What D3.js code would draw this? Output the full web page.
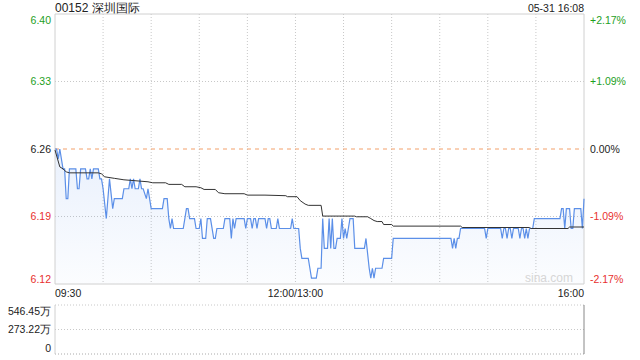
<!DOCTYPE html>
<html>
<head>
<meta charset="utf-8">
<script src="https://cdn.jsdelivr.net/npm/d3@7"></script>
<style>
    body { margin: 0; background: #fff; }
    svg { display: block; font-family: "Liberation Sans", Arial, sans-serif; }
</style>
</head>
<body>
<div class="chart"></div>
<script>
const title = '00152 深圳国际'
const stamp = '05-31 16:08'
const prevClose = 6.26
const spanPct = 0.0217

const priceLabels = ['6.12', '6.19', '6.26', '6.33', '6.40']
const pctLabels = ['-2.17%', '-1.09%', '0.00%', '+1.09%', '+2.17%']
const timeLabels = ['09:30', '12:00/13:00', '16:00']
const timeLabelMins = [0, 150, 330]
const volLabels = ['0', '273.22万', '546.45万']
const volTicks = [0, 273.22, 546.45]

// [minute since 09:30 (lunch removed), price]
const pricePts = [
    [0, 6.26], [1, 6.26], [2, 6.25], [3, 6.26], [5, 6.24], [6, 6.24], [7, 6.21], [8, 6.21],
    [9, 6.24], [13, 6.24], [14, 6.22], [15, 6.22], [16, 6.24], [19, 6.24], [20, 6.23], [21, 6.23],
    [22, 6.24], [23, 6.23], [24, 6.24], [27, 6.24], [28, 6.23], [29, 6.23], [30, 6.22], [32, 6.19],
    [34, 6.23], [36, 6.20], [37, 6.21], [42, 6.21], [43, 6.22], [46, 6.22], [47, 6.23], [48, 6.22],
    [49, 6.23], [50, 6.22], [52, 6.22], [53, 6.23], [54, 6.22], [55, 6.22], [57, 6.21], [58, 6.22],
    [59, 6.21], [60, 6.20], [67, 6.20], [68, 6.21], [70, 6.21], [71, 6.19], [72, 6.18], [73, 6.19],
    [74, 6.18], [80, 6.18], [81, 6.19], [82, 6.20], [83, 6.20], [84, 6.19], [87, 6.19], [88, 6.18],
    [90, 6.18], [91, 6.19], [92, 6.17], [94, 6.17], [95, 6.19], [97, 6.19], [99, 6.17], [100, 6.17],
    [101, 6.18], [105, 6.18], [106, 6.19], [109, 6.19], [110, 6.17], [111, 6.19], [112, 6.18], [113, 6.19],
    [118, 6.19], [119, 6.18], [120, 6.19], [122, 6.19], [123, 6.18], [124, 6.19], [125, 6.19], [126, 6.18],
    [127, 6.19], [131, 6.19], [132, 6.18], [133, 6.19], [134, 6.19], [135, 6.18], [138, 6.18], [139, 6.19],
    [140, 6.18], [147, 6.18], [148, 6.19], [149, 6.18], [152, 6.18], [153, 6.16], [154, 6.15], [158, 6.15],
    [159, 6.14], [160, 6.13], [163, 6.13], [164, 6.14], [166, 6.14], [167, 6.19], [168, 6.16], [170, 6.16],
    [171, 6.19], [172, 6.16], [173, 6.19], [174, 6.16], [175, 6.16], [176, 6.17], [178, 6.17], [179, 6.19],
    [180, 6.17], [181, 6.18], [182, 6.17], [183, 6.18], [184, 6.19], [186, 6.19], [187, 6.16], [193, 6.16],
    [194, 6.17], [196, 6.14], [197, 6.13], [198, 6.14], [199, 6.13], [200, 6.14], [204, 6.14], [205, 6.15],
    [210, 6.15], [211, 6.17], [247, 6.17], [248, 6.16], [249, 6.17], [250, 6.16], [251, 6.17], [252, 6.17],
    [253, 6.18], [268, 6.18], [269, 6.17], [270, 6.18], [278, 6.18], [279, 6.17], [280, 6.18], [281, 6.18],
    [282, 6.17], [283, 6.18], [284, 6.18], [285, 6.17], [286, 6.18], [289, 6.18], [290, 6.17], [291, 6.18],
    [292, 6.18], [293, 6.17], [294, 6.18], [295, 6.17], [296, 6.18], [298, 6.18], [299, 6.19], [315, 6.19],
    [316, 6.20], [317, 6.20], [318, 6.18], [319, 6.20], [321, 6.20], [322, 6.18], [323, 6.18], [324, 6.20],
    [328, 6.20], [329, 6.18], [330, 6.21]
]

const avgPts = [
    [0, 6.259], [3, 6.242], [5, 6.240], [7, 6.237], [9, 6.236], [27, 6.236], [29, 6.235], [31, 6.232],
    [37, 6.2305], [43, 6.229], [58, 6.227], [61, 6.226], [69, 6.226], [71, 6.2244], [79, 6.2244], [81, 6.222],
    [88, 6.222], [91, 6.221], [93, 6.2193], [100, 6.2193], [102, 6.216], [106, 6.215], [118, 6.215], [120, 6.2136],
    [131, 6.2136], [144, 6.213], [145, 6.212], [151, 6.212], [153, 6.208], [156, 6.2046], [158, 6.2033], [166, 6.2033],
    [167, 6.1925], [187, 6.1925], [188, 6.1918], [195, 6.1918], [197, 6.19], [199, 6.188], [201, 6.187], [204, 6.187],
    [205, 6.184], [210, 6.184], [211, 6.1824], [253, 6.1824], [254, 6.181], [296, 6.181], [297, 6.180], [320, 6.180],
    [321, 6.1815], [330, 6.1815]
]

const plotL = 55, plotR = 584, plotT = 14, plotB = 284
const volT = 305, volB = 354
const green = '#1ea01e', red = '#e8302e', grid = '#c8c8c8'

const svg = d3.select('.chart')
    .append('svg')
        .attr('width', 640)
        .attr('height', 360)
        .style('font-size', '10.5px')

const lo = prevClose * (1 - spanPct), hi = prevClose * (1 + spanPct)

const xScale = d3.scaleLinear()
    .domain([0, 330])
    .range([plotL, plotR])

const yScale = d3.scaleLinear()
    .domain([lo, hi])
    .range([plotB, plotT])

const vScale = d3.scaleLinear()
    .domain([0, volTicks[2]])
    .range([volB, volT])

const levels = d3.range(5).map(i => lo + i * (hi - lo) / 4)
const tone = i => i < 2 ? red : i > 2 ? green : '#222'

// gradient under the price line
const grad = svg.append('defs')
    .append('linearGradient')
        .attr('id', 'fade')
        .attr('gradientUnits', 'userSpaceOnUse')
        .attr('x1', 0).attr('x2', 0)
        .attr('y1', yScale(hi)).attr('y2', yScale(lo))
grad.append('stop').attr('offset', '0%').attr('stop-color', '#4a86e8').attr('stop-opacity', 0.22)
grad.append('stop').attr('offset', '100%').attr('stop-color', '#4a86e8').attr('stop-opacity', 0.02)

// vertical grid
svg.selectAll('line.vgrid')
    .data(d3.range(30, 330, 30))
    .enter()
    .append('line')
        .attr('x1', d => xScale(d))
        .attr('x2', d => xScale(d))
        .attr('y1', plotT)
        .attr('y2', plotB)
        .style('stroke', grid)
        .style('stroke-dasharray', '1,2')

svg.selectAll('line.hgrid')
    .data([levels[1], levels[3]])
    .enter()
    .append('line')
        .attr('x1', plotL)
        .attr('x2', plotR)
        .attr('y1', d => yScale(d))
        .attr('y2', d => yScale(d))
        .style('stroke', grid)
        .style('stroke-dasharray', '1,2')

svg.append('path')
    .datum(pricePts)
    .attr('d', d3.area()
        .x(d => xScale(d[0]))
        .y0(yScale(lo))
        .y1(d => yScale(d[1])))
    .style('fill', 'url(#fade)')

// previous close
svg.append('line')
    .attr('x1', plotL)
    .attr('x2', plotR)
    .attr('y1', yScale(prevClose))
    .attr('y2', yScale(prevClose))
    .style('stroke', '#f3a06a')
    .style('stroke-dasharray', '4,4')

svg.append('path')
    .attr('d', `M${plotL},${plotT}H${plotR}V${plotB}H${plotL}Z`)
    .style('fill', 'none')
    .style('stroke', '#d0d0d0')

svg.append('path')
    .datum(pricePts)
    .attr('d', d3.line()
        .x(d => xScale(d[0]))
        .y(d => yScale(d[1])))
    .style('fill', 'none')
    .style('stroke', '#5b8fe8')
    .style('stroke-width', 1.2)

svg.append('path')
    .datum(avgPts)
    .attr('d', d3.line()
        .x(d => xScale(d[0]))
        .y(d => yScale(d[1])))
    .style('fill', 'none')
    .style('stroke', '#333')
    .style('stroke-width', 1)

svg.append('text')
    .attr('x', 573)
    .attr('y', 282)
    .attr('text-anchor', 'end')
    .style('fill', '#d6d6d6')
    .style('font-size', '12px')
    .text('sina.com')

// price and percent labels
const labelY = (d, i) => yScale(d) + (i === 4 ? 6 : i === 0 ? -5 : 0)

svg.selectAll('text.price')
    .data(levels)
    .enter()
    .append('text')
        .attr('x', 51)
        .attr('y', labelY)
        .attr('dy', '0.35em')
        .attr('text-anchor', 'end')
        .style('fill', (d, i) => tone(i))
        .text((d, i) => priceLabels[i])

svg.selectAll('text.pct')
    .data(levels)
    .enter()
    .append('text')
        .attr('x', 590)
        .attr('y', labelY)
        .attr('dy', '0.35em')
        .style('fill', (d, i) => tone(i))
        .text((d, i) => pctLabels[i])

svg.selectAll('text.time')
    .data(timeLabelMins)
    .enter()
    .append('text')
        .attr('x', d => xScale(d))
        .attr('y', 297)
        .attr('text-anchor', (d, i) => ['start', 'middle', 'end'][i])
        .style('fill', '#222')
        .text((d, i) => timeLabels[i])

svg.append('text')
    .attr('x', plotL)
    .attr('y', 12)
    .style('fill', '#222')
    .style('font-size', '12px')
    .text(title)

svg.append('text')
    .attr('x', plotR)
    .attr('y', 12)
    .attr('text-anchor', 'end')
    .style('fill', '#222')
    .text(stamp)

// volume panel
svg.selectAll('line.vol')
    .data(volTicks)
    .enter()
    .append('line')
        .attr('x1', plotL)
        .attr('x2', plotR)
        .attr('y1', d => vScale(d))
        .attr('y2', d => vScale(d))
        .style('stroke', (d, i) => i === 0 ? '#aaa' : grid)
        .style('stroke-dasharray', '1,2')

svg.append('line')
    .attr('x1', plotL).attr('x2', plotL)
    .attr('y1', volT).attr('y2', volB)
    .style('stroke', '#d0d0d0')

svg.append('line')
    .attr('x1', plotR).attr('x2', plotR)
    .attr('y1', volT).attr('y2', volB)
    .style('stroke', '#888')

svg.selectAll('text.vol')
    .data(volTicks)
    .enter()
    .append('text')
        .attr('x', 51)
        .attr('y', (d, i) => vScale(d) + (i === 2 ? 6 : i === 0 ? -6 : 0))
        .attr('dy', '0.35em')
        .attr('text-anchor', 'end')
        .style('fill', '#222')
        .text((d, i) => volLabels[i])
</script>
</body>
</html>
